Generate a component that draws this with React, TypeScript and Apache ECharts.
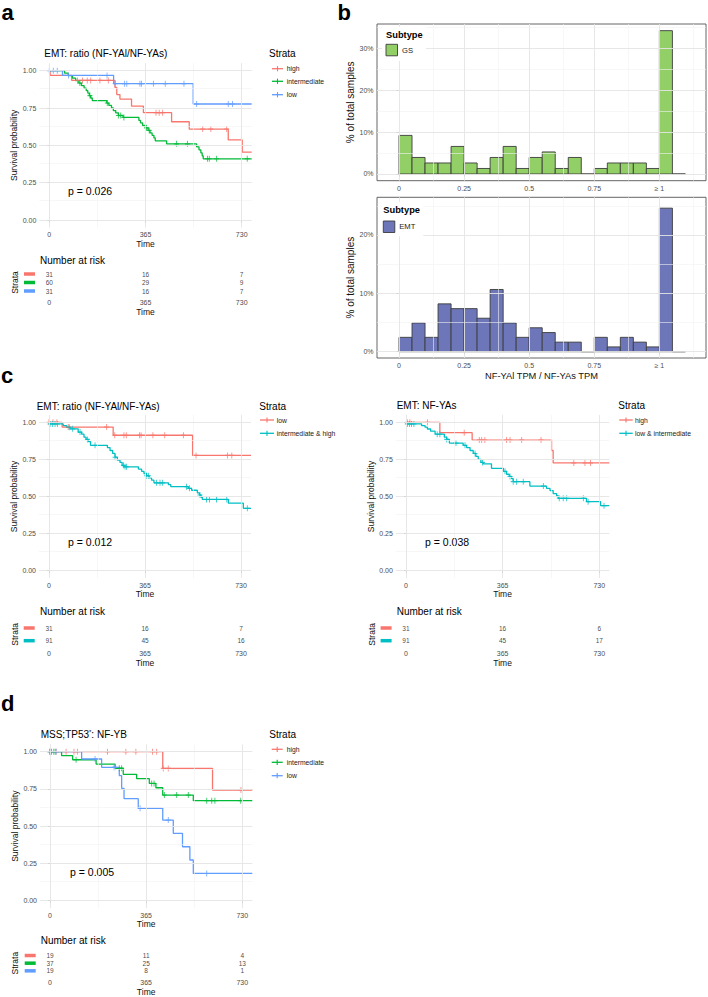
import React, { useEffect, useRef } from "react";
import * as echarts from "echarts";

const FONT = '"Liberation Sans", Arial, Helvetica, sans-serif';
const RED = "#F8766D";
const GREEN = "#00BA38";
const BLUE = "#619CFF";
const CYAN = "#00BFC4";
const GS_FILL = "#93CF67";
const EMT_FILL = "#6D76B8";

// ---------- shared axis ticks ----------
const KM_TICKS = [0, 365, 730];
const KM_MINOR = [182.5, 547.5];
const SURV_TICKS = [0, 0.25, 0.5, 0.75, 1];
const SURV_MINOR = [0.125, 0.375, 0.625, 0.875];

// ---------- panel a ----------
const A_TITLE = "EMT: ratio (NF-YAl/NF-YAs)";
const A_P = "p = 0.026";
const A_STRATA = ["high", "intermediate", "low"];
const A_RISK_HIGH = [31, 16, 7];
const A_RISK_INT = [60, 29, 9];
const A_RISK_LOW = [31, 16, 7];
const A_HIGH_EVENTS = [[3, 0.968], [85, 0.935], [249, 0.888], [256, 0.84], [268, 0.81], [312, 0.763], [357, 0.719], [464, 0.658], [531, 0.609], [679, 0.536], [732, 0.455]];
const A_HIGH_CENSOR = [107, 126, 144, 157, 192, 224, 405, 417, 430, 582, 613, 673];
const A_INT_EVENTS = [[58, 0.983], [72, 0.967], [88, 0.95], [100, 0.933], [112, 0.917], [122, 0.9], [132, 0.883], [140, 0.867], [146, 0.85], [152, 0.833], [157, 0.817], [163, 0.8], [218, 0.783], [226, 0.767], [236, 0.75], [243, 0.733], [252, 0.717], [262, 0.7], [280, 0.687], [340, 0.667], [346, 0.65], [354, 0.633], [365, 0.617], [375, 0.6], [382, 0.583], [390, 0.567], [397, 0.55], [402, 0.53], [445, 0.51], [559, 0.49], [568, 0.47], [575, 0.45], [580, 0.43], [584, 0.41]];
const A_INT_CENSOR = [116, 154, 220, 262, 271, 283, 369, 379, 483, 524, 600, 607, 635, 751];
const LOW_RATIO_EVENTS = [[50, 0.968], [244, 0.913], [546, 0.777]];
const LOW_RATIO_CENSOR = [0, 15, 30, 73, 219, 250, 285, 294, 344, 350, 395, 440, 511, 559, 679, 695];

// ---------- panel c (left) ----------
const CL_TITLE = "EMT: ratio (NF-YAl/NF-YAs)";
const CL_P = "p = 0.012";
const CL_STRATA = ["low", "intermediate & high"];
const CL_RISK_LOW = [31, 16, 7];
const CL_RISK_IH = [91, 45, 16];
const CL_IH_EVENTS = [[2, 0.989], [54, 0.978], [67, 0.967], [80, 0.956], [111, 0.934], [124, 0.92], [133, 0.9], [141, 0.885], [150, 0.87], [158, 0.845], [222, 0.83], [232, 0.81], [242, 0.79], [251, 0.765], [260, 0.745], [270, 0.73], [278, 0.71], [285, 0.7], [340, 0.685], [352, 0.67], [361, 0.655], [371, 0.64], [381, 0.625], [390, 0.61], [399, 0.592], [454, 0.58], [463, 0.566], [530, 0.555], [542, 0.542], [564, 0.525], [572, 0.51], [578, 0.495], [583, 0.48], [682, 0.455], [739, 0.42]];
const CL_IH_CENSOR = [4, 14, 23, 32, 77, 90, 118, 146, 175, 251, 283, 289, 295, 371, 378, 409, 422, 432, 523, 534, 574, 599, 610, 637, 676, 754];

// ---------- panel c (right) ----------
const CR_TITLE = "EMT: NF-YAs";
const CR_P = "p = 0.038";
const CR_STRATA = ["high", "low & intermediate"];
const CR_RISK_HIGH = [31, 16, 6];
const CR_RISK_LI = [91, 45, 17];
const CR_HIGH_EVENTS = [[128, 0.93], [250, 0.88], [550, 0.81], [556, 0.726]];
const CR_HIGH_CENSOR = [5, 15, 81, 220, 277, 286, 298, 380, 393, 437, 510, 634, 676, 697];
const CR_LI_EVENTS = [[2, 0.989], [59, 0.978], [72, 0.967], [81, 0.955], [93, 0.94], [110, 0.92], [145, 0.9], [154, 0.885], [164, 0.86], [216, 0.845], [229, 0.83], [242, 0.81], [254, 0.79], [264, 0.77], [273, 0.75], [283, 0.73], [292, 0.72], [323, 0.69], [368, 0.67], [380, 0.65], [390, 0.635], [399, 0.62], [405, 0.6], [468, 0.57], [531, 0.555], [544, 0.54], [556, 0.52], [569, 0.505], [575, 0.488], [682, 0.465], [735, 0.438]];
const CR_LI_CENSOR = [5, 13, 21, 30, 118, 128, 154, 189, 223, 261, 289, 374, 393, 405, 418, 443, 519, 579, 594, 607, 670, 688, 748];

// ---------- panel d ----------
const D_P = "p = 0.005";
const D_STRATA = ["high", "intermediate", "low"];
const D_RISK_HIGH = [19, 11, 4];
const D_RISK_INT = [37, 25, 13];
const D_RISK_LOW = [19, 8, 1];
const D_HIGH_EVENTS = [[428, 0.888], [617, 0.743]];
const D_HIGH_CENSOR = [0, 23, 61, 91, 104, 218, 288, 326, 389, 405, 430, 449, 725];
const D_INT_EVENTS = [[44, 0.973], [86, 0.946], [175, 0.917], [247, 0.889], [278, 0.848], [329, 0.819], [377, 0.787], [402, 0.758], [428, 0.709], [544, 0.671]];
const D_INT_CENSOR = [0, 6, 19, 99, 263, 272, 386, 395, 434, 481, 525, 595, 614, 626, 724];
const D_LOW_EVENTS = [[120, 0.951], [196, 0.895], [263, 0.84], [272, 0.754], [281, 0.685], [335, 0.62], [428, 0.541], [468, 0.452], [503, 0.362], [531, 0.273], [544, 0.183]];
const D_LOW_CENSOR = [0, 13, 23, 171, 243, 247, 342, 449, 595];

// ---------- panel b (histograms) ----------
const BIN_STARTS = [0, 0.05, 0.1, 0.15, 0.2, 0.25, 0.3, 0.35, 0.4, 0.45, 0.5, 0.55, 0.6, 0.65, 0.7, 0.75, 0.8, 0.85, 0.9, 0.95, 1.0, 1.05];
const GS_COUNTS = [7, 3, 2, 2, 5, 2, 1, 3, 5, 1, 3, 4, 1, 3, 0, 1, 2, 2, 2, 1, 26, 0];
const EMT_COUNTS = [3, 6, 3, 10, 9, 9, 7, 13, 6, 3, 5, 4, 2, 2, 0, 3, 1, 3, 2, 1, 30, 0];
const HIST_TICKS = [0, 0.25, 0.5, 0.75, 1];
const HIST_TICK_LABELS = ["0", "0.25", "0.5", "0.75", "\u2265 1"];
const HIST_MINOR = [0.125, 0.375, 0.625, 0.875, 1.125];
const GS_PCT_TICKS = [0, 10, 20, 30];
const GS_PCT_MINOR = [5, 15, 25, 35];
const EMT_PCT_TICKS = [0, 10, 20];
const EMT_PCT_MINOR = [5, 15, 25];

const X_MIN = -38;
const X_MAX = 768;
const CROSS = "path://M-1,-0.18L1,-0.18L1,0.18L-1,0.18Z M-0.18,-1L0.18,-1L0.18,1L-0.18,1Z";

function stepData(events: number[][]) {
  const d: number[][] = [[0, 1]];
  events.forEach((e) => d.push([e[0], e[1]]));
  d.push([X_MAX, events[events.length - 1][1]]);
  return d;
}
function survAt(events: number[][], t: number) {
  let s = 1;
  for (const e of events) if (e[0] <= t) s = e[1];
  return s;
}

export default function App() {
  const ref = useRef<HTMLDivElement>(null);
  useEffect(() => {
    if (!ref.current) return;
    const chart = echarts.init(ref.current, undefined, { renderer: "svg" });

    const grids: any[] = [];
    const xAxes: any[] = [];
    const yAxes: any[] = [];
    const series: any[] = [];
    const graphics: any[] = [];

    const tickLabel = { fontSize: 7, color: "#4D4D4D", fontFamily: FONT };
    const nameStyle = { fontSize: 8.5, color: "#111", fontFamily: FONT };
    const MAJOR = { color: "#E4E4E4", width: 0.9, type: "solid" };
    const MINOR = { color: "#F1F1F1", width: 0.6, type: "solid" };

    const addGridLines = (gi: number, xMaj: number[], xMin: number[], yMaj: number[], yMin: number[]) => {
      const data = [
        ...xMin.map((v) => ({ xAxis: v, lineStyle: MINOR })),
        ...yMin.map((v) => ({ yAxis: v, lineStyle: MINOR })),
        ...xMaj.map((v) => ({ xAxis: v, lineStyle: MAJOR })),
        ...yMaj.map((v) => ({ yAxis: v, lineStyle: MAJOR })),
      ];
      series.push({
        type: "line",
        xAxisIndex: gi,
        yAxisIndex: gi,
        data: [],
        silent: true,
        z: 1,
        markLine: { silent: true, symbol: ["none", "none"], label: { show: false }, emphasis: { disabled: true }, data },
      });
    };

    const text = (x: number, y: number, s: string, size: number, extra: any = {}) =>
      graphics.push({
        type: "text",
        x,
        y,
        silent: true,
        style: { text: s, fontSize: size, fontFamily: FONT, fill: "#000", verticalAlign: "middle", align: "left", ...extra },
      });

    type Stratum = { name: string; color: string; events: number[][]; censor: number[]; risk: number[] };

    const addKM = (P: any) => {
      const strata: Stratum[] = P.strata;
      const gi = grids.length;
      grids.push({ left: P.left, top: P.top, width: P.width, height: P.height });
      xAxes.push({
        type: "value", gridIndex: gi, min: X_MIN, max: X_MAX,
        splitLine: { show: false }, axisLine: { show: false },
        axisTick: { show: true, customValues: KM_TICKS, length: 2.5, lineStyle: { color: "#333", width: 0.8 } },
        axisLabel: { ...tickLabel, customValues: KM_TICKS, margin: P.xLabMargin },
        name: "Time", nameLocation: "middle", nameGap: P.timeGap, nameTextStyle: nameStyle,
      });
      yAxes.push({
        type: "value", gridIndex: gi, min: -0.05, max: 1.05,
        splitLine: { show: false }, axisLine: { show: false },
        axisTick: { show: true, customValues: SURV_TICKS, length: 2, lineStyle: { color: "#333", width: 0.8 } },
        axisLabel: { ...tickLabel, customValues: SURV_TICKS, margin: 3, formatter: (v: number) => v.toFixed(2) },
        name: "Survival probability", nameLocation: "middle", nameRotate: 90, nameGap: P.survGap, nameTextStyle: nameStyle,
      });
      addGridLines(gi, KM_TICKS, KM_MINOR, SURV_TICKS, SURV_MINOR);
      strata.forEach((s) =>
        series.push({
          type: "line", xAxisIndex: gi, yAxisIndex: gi, step: "end", showSymbol: false, symbol: "none",
          data: stepData(s.events), lineStyle: { color: s.color, width: 1.3 }, itemStyle: { color: s.color }, z: 3,
        })
      );
      strata.forEach((s) =>
        series.push({
          type: "scatter", xAxisIndex: gi, yAxisIndex: gi, symbol: CROSS, symbolSize: [5, 6],
          data: s.censor.map((t) => [t, survAt(s.events, t)]), itemStyle: { color: s.color }, z: 4,
        })
      );

      // risk table
      const ri = grids.length;
      grids.push({ left: P.left, top: P.riskTop, width: P.width, height: P.riskHeight });
      xAxes.push({
        type: "value", gridIndex: ri, min: X_MIN, max: X_MAX,
        splitLine: { show: false }, axisLine: { show: false }, axisTick: { show: false },
        axisLabel: { ...tickLabel, customValues: KM_TICKS, margin: P.riskLabMargin },
        name: "Time", nameLocation: "middle", nameGap: P.riskTimeGap, nameTextStyle: nameStyle,
      });
      const rich: any = {};
      strata.forEach((s, i) => {
        rich["k" + i] = { width: 11, height: 3.5, lineHeight: 3.5, fontSize: 1, backgroundColor: s.color };
      });
      yAxes.push({
        type: "category", gridIndex: ri, data: strata.map((s) => s.name), inverse: true,
        axisLine: { show: false }, axisTick: { show: false }, splitLine: { show: false },
        axisLabel: { interval: 0, hideOverlap: false, margin: 4.3, formatter: (_v: string, i: number) => `{k${i}| }`, rich },
        name: "Strata", nameLocation: "middle", nameRotate: 90, nameGap: P.survGap, nameTextStyle: nameStyle,
      });
      series.push({
        type: "scatter", xAxisIndex: ri, yAxisIndex: ri, symbolSize: 1, itemStyle: { color: "rgba(0,0,0,0)" },
        data: strata.flatMap((s) => KM_TICKS.map((t, j) => [t, s.name, s.risk[j]])),
        label: { show: true, position: "inside", formatter: (p: any) => String(p.value[2]), fontSize: 6.5, color: "#111", fontFamily: FONT },
      });

      // title, p, legend, number at risk
      if (P.titleRich) {
        graphics.push({
          type: "text", x: P.titleX, y: P.titleY, silent: true,
          style: {
            text: P.titleRich, fontFamily: FONT, verticalAlign: "middle", align: "left",
            rich: {
              n: { fontSize: 10, fontFamily: FONT, fill: "#000" },
              s: { fontSize: 6, fontFamily: FONT, fill: "#000", padding: [0, 0, 5, 0] },
            },
          },
        });
      } else {
        text(P.titleX, P.titleY, P.title, 10);
      }
      text(P.pX, P.pY, P.p, 10.5);
      text(P.legX, P.legY, "Strata", 10);
      strata.forEach((s, i) => {
        const y = P.legRows[i];
        graphics.push({ type: "line", silent: true, shape: { x1: P.keyX0, y1: y, x2: P.keyX1, y2: y }, style: { stroke: s.color, lineWidth: 1.3 } });
        const cx = (P.keyX0 + P.keyX1) / 2;
        graphics.push({ type: "line", silent: true, shape: { x1: cx, y1: y - 2.6, x2: cx, y2: y + 2.6 }, style: { stroke: s.color, lineWidth: 1.1 } });
        text(P.keyTextX, y, s.name, 6.8, { fill: "#1A1A1A" });
      });
      text(P.narX, P.narY, "Number at risk", 10);
    };

    // Panel a
    addKM({
      title: A_TITLE, p: A_P,
      strata: [
        { name: A_STRATA[0], color: RED, events: A_HIGH_EVENTS, censor: A_HIGH_CENSOR, risk: A_RISK_HIGH },
        { name: A_STRATA[1], color: GREEN, events: A_INT_EVENTS, censor: A_INT_CENSOR, risk: A_RISK_INT },
        { name: A_STRATA[2], color: BLUE, events: LOW_RATIO_EVENTS, censor: LOW_RATIO_CENSOR, risk: A_RISK_LOW },
      ],
      left: 39.3, top: 63.2, width: 212.4, height: 164.3,
      riskTop: 269.75, riskHeight: 25.5,
      xLabMargin: 3, timeGap: 11.5, survGap: 20, riskLabMargin: 3.25, riskTimeGap: 12.2,
      titleX: 44.3, titleY: 53, pX: 68, pY: 191,
      legX: 269, legY: 53, keyX0: 272, keyX1: 283, keyTextX: 286.7, legRows: [68.7, 81.3, 94.7],
      narX: 40, narY: 260,
    });

    // Panel c left
    addKM({
      title: CL_TITLE, p: CL_P,
      strata: [
        { name: CL_STRATA[0], color: RED, events: LOW_RATIO_EVENTS, censor: LOW_RATIO_CENSOR, risk: CL_RISK_LOW },
        { name: CL_STRATA[1], color: CYAN, events: CL_IH_EVENTS, censor: CL_IH_CENSOR, risk: CL_RISK_IH },
      ],
      left: 39, top: 414.9, width: 212, height: 163.2,
      riskTop: 621.65, riskHeight: 25.4,
      xLabMargin: 3.4, timeGap: 11.6, survGap: 19.75, riskLabMargin: 3.15, riskTimeGap: 11.7,
      titleX: 36.7, titleY: 406, pX: 68, pY: 542,
      legX: 259.3, legY: 406, keyX0: 260, keyX1: 274, keyTextX: 276.7, legRows: [420, 433.3],
      narX: 40, narY: 611.7,
    });

    // Panel c right
    addKM({
      title: CR_TITLE, p: CR_P,
      strata: [
        { name: CR_STRATA[0], color: RED, events: CR_HIGH_EVENTS, censor: CR_HIGH_CENSOR, risk: CR_RISK_HIGH },
        { name: CR_STRATA[1], color: CYAN, events: CR_LI_EVENTS, censor: CR_LI_CENSOR, risk: CR_RISK_LI },
      ],
      left: 395.9, top: 414.9, width: 213.4, height: 163.2,
      riskTop: 621.65, riskHeight: 25.4,
      xLabMargin: 3.4, timeGap: 11.6, survGap: 18.65, riskLabMargin: 3.15, riskTimeGap: 11.7,
      titleX: 396.7, titleY: 405, pX: 425, pY: 542,
      legX: 618.3, legY: 405, keyX0: 619.3, keyX1: 632.7, keyTextX: 635, legRows: [420, 433.3],
      narX: 396.7, narY: 611.7,
    });

    // Panel d
    addKM({
      titleRich: "{n|MSS;TP53}{s|*}{n|: NF-YB}", p: D_P,
      strata: [
        { name: D_STRATA[0], color: RED, events: D_HIGH_EVENTS, censor: D_HIGH_CENSOR, risk: D_RISK_HIGH },
        { name: D_STRATA[1], color: GREEN, events: D_INT_EVENTS, censor: D_INT_CENSOR, risk: D_RISK_INT },
        { name: D_STRATA[2], color: BLUE, events: D_LOW_EVENTS, censor: D_LOW_CENSOR, risk: D_RISK_LOW },
      ],
      left: 40, top: 744.25, width: 212.3, height: 163.9,
      riskTop: 951.7, riskHeight: 24,
      xLabMargin: 3.35, timeGap: 11.6, survGap: 20.75, riskLabMargin: 4.1, riskTimeGap: 12.35,
      titleX: 40.7, titleY: 734.3, pX: 70, pY: 872,
      legX: 269.3, legY: 734.3, keyX0: 271.7, keyX1: 282.7, keyTextX: 286.7, legRows: [749.3, 762.3, 775.7],
      narX: 40.7, narY: 940.7,
    });

    // Histograms
    const histLabel = (v: number) => {
      let best = 0;
      HIST_TICKS.forEach((t, i) => { if (Math.abs(t - v) < Math.abs(HIST_TICKS[best] - v)) best = i; });
      return HIST_TICK_LABELS[best];
    };
    const addHist = (H: any) => {
      const gi = grids.length;
      grids.push({ left: 377, top: H.top, width: 329, height: H.height, show: true, borderColor: "#555", borderWidth: 0.9, backgroundColor: "rgba(0,0,0,0)", z: 5 });
      xAxes.push({
        type: "value", gridIndex: gi, min: -0.0845, max: 1.179,
        splitLine: { show: false }, axisLine: { show: false },
        axisTick: { show: true, customValues: HIST_TICKS, length: 2.5, lineStyle: { color: "#333", width: 0.8 } },
        axisLabel: { ...tickLabel, customValues: HIST_TICKS, margin: H.xLabMargin, formatter: histLabel },
        name: H.xName, nameLocation: "middle", nameGap: 13, nameTextStyle: { fontSize: 9.3, color: "#111", fontFamily: FONT },
      });
      yAxes.push({
        type: "value", gridIndex: gi, min: H.yMin, max: H.yMax,
        splitLine: { show: false }, axisLine: { show: false },
        axisTick: { show: true, customValues: H.ticks, length: 2.5, lineStyle: { color: "#333", width: 0.8 } },
        axisLabel: { ...tickLabel, customValues: H.ticks, margin: 3.5, formatter: (v: number) => `${Math.round(v)}%` },
        name: "% of total samples", nameLocation: "middle", nameRotate: 90, nameGap: 20.3,
        nameTextStyle: { fontSize: 10, color: "#111", fontFamily: FONT },
      });
      addGridLines(gi, HIST_TICKS, HIST_MINOR, H.ticks, H.minor);
      const total = H.counts.reduce((a: number, b: number) => a + b, 0);
      series.push({
        type: "custom", xAxisIndex: gi, yAxisIndex: gi, z: 3,
        data: BIN_STARTS.map((b, i) => [b, b + 0.05, (H.counts[i] / total) * 100]),
        encode: { x: [0, 1], y: 2 },
        renderItem: (_p: any, api: any) => {
          const a = api.coord([api.value(0), api.value(2)]);
          const b = api.coord([api.value(1), 0]);
          return {
            type: "rect",
            shape: { x: a[0], y: a[1], width: b[0] - a[0], height: b[1] - a[1] },
            style: { fill: H.fill, stroke: "#3C3C3C", lineWidth: 0.9 },
          };
        },
      });
      // legend
      graphics.push({ type: "rect", silent: true, z: 10, shape: { x: H.legX - 4, y: H.legY - 8, width: 44, height: 34 }, style: { fill: "#fff" } });
      graphics.push({ type: "text", silent: true, z: 11, x: H.legX, y: H.legY, style: { text: "Subtype", fontSize: 9.3, fontWeight: "bold", fontFamily: FONT, fill: "#000", verticalAlign: "middle" } });
      graphics.push({ type: "rect", silent: true, z: 11, shape: { x: H.legX, y: H.keyY, width: 11.5, height: 11.5 }, style: { fill: H.fill, stroke: "#3C3C3C", lineWidth: 0.9 } });
      graphics.push({ type: "text", silent: true, z: 11, x: H.legX + 16, y: H.keyY + 5.75, style: { text: H.label, fontSize: 7.6, fontFamily: FONT, fill: "#1A1A1A", verticalAlign: "middle" } });
    };
    addHist({ top: 24, height: 156.7, yMin: -1.6, yMax: 35.8, ticks: GS_PCT_TICKS, minor: GS_PCT_MINOR, counts: GS_COUNTS, fill: GS_FILL, label: "GS", legX: 386, legY: 35, keyY: 44.3, xLabMargin: 4, xName: "" });
    addHist({ top: 197.3, height: 160.7, yMin: -1.08, yMax: 26.45, ticks: EMT_PCT_TICKS, minor: EMT_PCT_MINOR, counts: EMT_COUNTS, fill: EMT_FILL, label: "EMT", legX: 383.3, legY: 210, keyY: 221, xLabMargin: 3.5, xName: "NF-YAl TPM / NF-YAs TPM" });

    // panel letters
    const letter = (x: number, y: number, s: string) =>
      graphics.push({ type: "text", x, y, silent: true, style: { text: s, fontSize: 22, fontWeight: "bold", fontFamily: FONT, fill: "#000", verticalAlign: "middle" } });
    letter(1.5, 12, "a");
    letter(337.5, 12, "b");
    letter(1, 375, "c");
    letter(1, 703, "d");

    chart.setOption({
      animation: false,
      backgroundColor: "#fff",
      textStyle: { fontFamily: FONT },
      grid: grids,
      xAxis: xAxes,
      yAxis: yAxes,
      series,
      graphic: { elements: graphics },
    });
    return () => chart.dispose();
  }, []);
  return <div ref={ref} style={{ position: "absolute", left: 0, top: 0, width: 708, height: 997 }} />;
}
